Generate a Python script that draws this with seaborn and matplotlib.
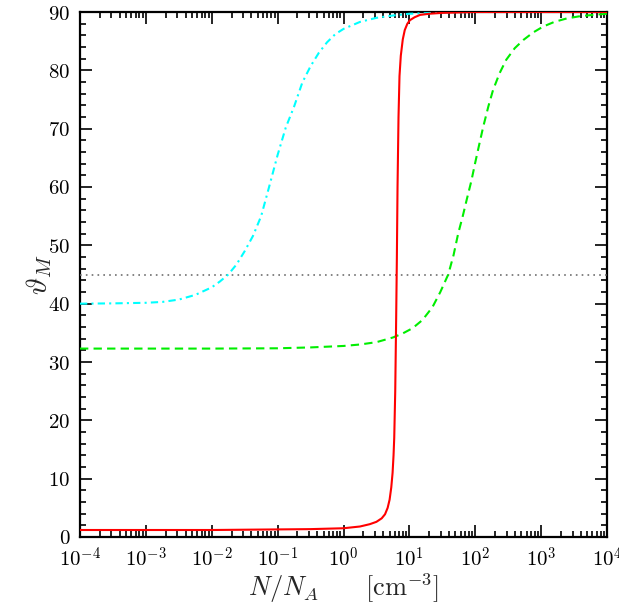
import matplotlib
matplotlib.use("Agg")
import matplotlib.pyplot as plt
import matplotlib.ticker as mticker
import seaborn as sns
import pandas as pd

# ---- data ----
cyan_n = [1e-4, 3.16e-4, 1e-3, 1.78e-3, 3.16e-3, 5.62e-3, 1e-2, 1.33e-2, 1.78e-2, 2.37e-2,
          3.16e-2, 4.22e-2, 5.62e-2, 7.50e-2, 0.1, 0.133, 0.178, 0.237, 0.316, 0.422,
          0.562, 0.750, 1.0, 1.78, 3.16, 5.62, 10.0, 31.6, 100.0, 1000.0, 1e4]
cyan_theta = [40.0, 40.05, 40.15, 40.3, 40.7, 41.5, 42.8, 43.8, 45.0, 46.7,
              49.0, 51.6, 55.0, 60.2, 65.5, 70.2, 73.8, 77.9, 80.7, 83.0,
              84.8, 86.2, 87.1, 88.3, 89.0, 89.4, 89.7, 89.9, 90.0, 90.0, 90.0]

red_n = [1e-4, 1e-3, 1e-2, 0.1, 0.316, 1.0, 1.78, 2.51, 3.16, 3.80, 4.27, 4.68, 5.01,
         5.31, 5.56, 5.75, 5.89, 6.10, 6.31, 6.46, 6.61, 6.84, 7.08, 7.41, 7.94, 8.51,
         9.33, 10.2, 12.0, 14.5, 20.0, 31.6, 100.0, 1000.0, 1e4]
red_theta = [1.2, 1.2, 1.2, 1.3, 1.35, 1.5, 1.8, 2.2, 2.6, 3.2, 3.9, 5.0, 6.4,
             8.5, 11.0, 14.0, 17.0, 25.0, 38.0, 48.0, 60.0, 72.0, 79.0, 82.5, 85.3, 86.9,
             88.0, 88.6, 89.1, 89.5, 89.7, 89.85, 90.0, 90.0, 90.0]

green_n = [1e-4, 1e-3, 1e-2, 0.1, 0.316, 1.0, 1.78, 3.16, 5.62, 7.94, 11.2, 15.8, 22.4,
           29.5, 38.9, 46.8, 55.0, 64.6, 74.1, 87.1, 100.0, 115.0, 132.0, 158.0, 186.0,
           234.0, 295.0, 398.0, 537.0, 759.0, 1072.0, 1585.0, 2455.0, 3981.0, 6166.0, 1e4]
green_theta = [32.3, 32.3, 32.3, 32.35, 32.5, 32.75, 33.0, 33.4, 34.2, 34.9, 35.8, 37.2, 39.4,
               42.0, 45.0, 48.3, 52.0, 55.0, 57.8, 61.0, 64.2, 67.3, 70.3, 73.8, 76.6,
               79.5, 81.8, 83.8, 85.2, 86.5, 87.5, 88.3, 88.9, 89.3, 89.5, 89.7]

ref_level = 45.0
xtick_vals = [1e-4, 1e-3, 1e-2, 1e-1, 1e0, 1e1, 1e2, 1e3, 1e4]
xtick_labels = [r'$10^{-4}$', r'$10^{-3}$', r'$10^{-2}$', r'$10^{-1}$', r'$10^{0}$',
                r'$10^{1}$', r'$10^{2}$', r'$10^{3}$', r'$10^{4}$']
ytick_vals = [0, 10, 20, 30, 40, 50, 60, 70, 80, 90]
ytick_labels = [r'$0$', r'$10$', r'$20$', r'$30$', r'$40$', r'$50$', r'$60$', r'$70$', r'$80$', r'$90$']

# ---- style ----
sns.set_style("ticks")
plt.rcParams['mathtext.fontset'] = 'cm'
plt.rcParams['font.family'] = ['DejaVu Serif']

fig = plt.figure(figsize=(6.19, 6.05), dpi=100)
ax = fig.add_axes([80 / 619, 68 / 605, 527 / 619, 525 / 605])

df_c = pd.DataFrame({"N": cyan_n, "theta": cyan_theta})
df_r = pd.DataFrame({"N": red_n, "theta": red_theta})
df_g = pd.DataFrame({"N": green_n, "theta": green_theta})

ax.axhline(ref_level, color='#707070', linestyle=(0, (1, 2.5)), linewidth=1.2, zorder=2.6)
sns.lineplot(data=df_g, x="N", y="theta", ax=ax, color='#00ee00', sort=False,
             estimator=None, linewidth=1.5, linestyle=(0, (4, 2.5)), zorder=3.0)
sns.lineplot(data=df_c, x="N", y="theta", ax=ax, color='#00ffff', sort=False,
             estimator=None, linewidth=1.5, linestyle=(0, (3.5, 2, 1, 2)), zorder=3.1)
sns.lineplot(data=df_r, x="N", y="theta", ax=ax, color='#ff0000', sort=False,
             estimator=None, linewidth=1.5, linestyle='-', zorder=3.2)

ax.set_xscale('log')
ax.set_xlim(1e-4, 1e4)
ax.set_ylim(0, 90)
ax.set_xticks(xtick_vals, labels=xtick_labels)
ax.xaxis.set_minor_locator(mticker.LogLocator(base=10, subs=range(2, 10), numticks=100))
ax.xaxis.set_minor_formatter(mticker.NullFormatter())
ax.set_yticks(ytick_vals, labels=ytick_labels)
ax.yaxis.set_minor_locator(mticker.MultipleLocator(2))

ax.tick_params(which='both', direction='in', top=True, right=True, width=1.2, colors='black')
ax.tick_params(which='major', length=8.5, labelsize=15, pad=7)
ax.tick_params(which='minor', length=4.5)
for s in ax.spines.values():
    s.set_linewidth(1.6)
    s.set_color('black')

ax.set_xlabel(r'$N/N_A\quad\quad[\mathrm{cm}^{-3}]$', fontsize=19, labelpad=0)
ax.set_ylabel(r'$\vartheta_M$', fontsize=21, labelpad=-4)

fig.savefig("out.png", dpi=100)
